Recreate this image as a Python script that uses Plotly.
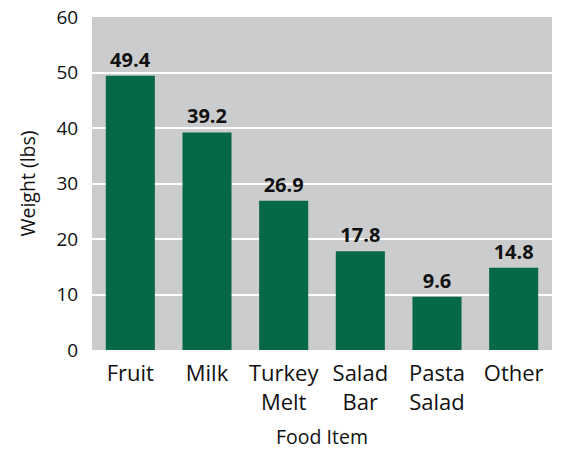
import plotly.graph_objects as go

categories = ["Fruit", "Milk", "Turkey<br>Melt", "Salad<br>Bar", "Pasta<br>Salad", "Other"]
weights = [49.4, 39.2, 26.9, 17.8, 9.6, 14.8]
y_ticks = [0, 10, 20, 30, 40, 50, 60]

FONT = "Open Sans"

fig = go.Figure(go.Bar(
    x=categories, y=weights,
    marker=dict(color="#076849", line=dict(width=0)),
    text=[f"{v:.1f}" for v in weights],
    textposition="outside",
    textfont=dict(family=FONT, size=20, color="#111111", weight="bold"),
    cliponaxis=False,
))

fig.update_layout(
    width=561, height=451,
    margin=dict(l=92, r=9, t=17, b=101, autoexpand=False),
    plot_bgcolor="#cbcccd",
    paper_bgcolor="white",
    bargap=0.36,
    showlegend=False,
    font=dict(family=FONT, color="#111111"),
    uniformtext=dict(minsize=20, mode="show"),
)
fig.update_xaxes(
    title=dict(text="Food Item", font=dict(size=19.5)),
    tickfont=dict(size=22),
    ticklabelstandoff=8,
    showgrid=False, ticks="", showline=False, automargin=False,
)
fig.update_yaxes(
    title=dict(text="Weight (lbs)", font=dict(size=19.5)),
    range=[0, 60], tickvals=y_ticks,
    tickfont=dict(size=19),
    ticklabeloverflow="allow",
    gridcolor="white", gridwidth=2,
    zeroline=False, showline=False, ticks="outside", ticklen=9, tickcolor="rgba(0,0,0,0)",
    automargin=False,
)

fig.write_html(
    "out.html",
    config={"displayModeBar": False},
    post_script="document.body.style.margin='0';",
)
